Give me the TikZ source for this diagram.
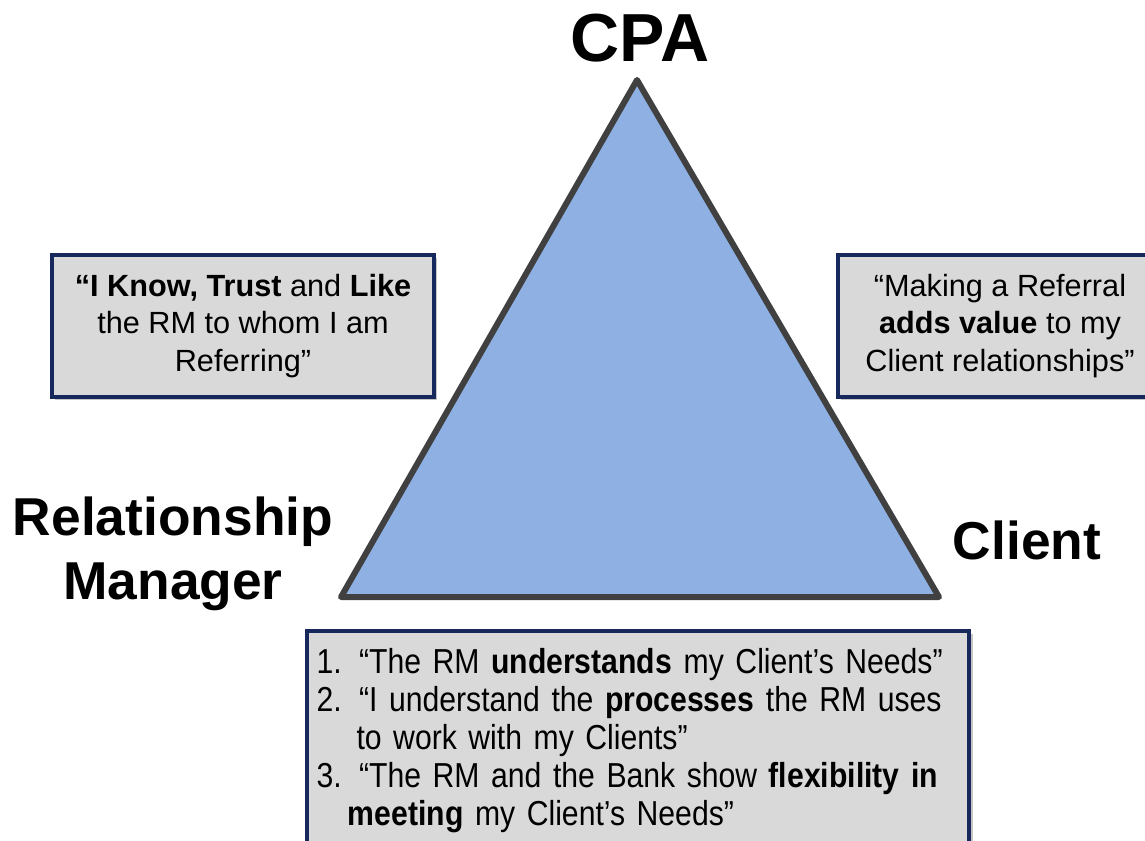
\documentclass[tikz,border=0pt]{standalone}
\usepackage{fontspec}
\setmainfont{Liberation Sans}
\newfontfamily\narrowfont[FakeStretch=0.87, Ligatures=TeX]{Liberation Sans}
\newcommand\needsfont{\narrowfont\fontsize{26}{28.5}\selectfont}
\usetikzlibrary{math,shadows}

\definecolor{triblue}{RGB}{142,176,226}
\definecolor{triedge}{RGB}{64,64,64}
\definecolor{boxgray}{RGB}{217,217,217}
\definecolor{boxnavy}{RGB}{22,40,92}

\tikzset{
  corner/.style={font=\bfseries\fontsize{40}{48}\selectfont, align=center},
  quotebox/.style={draw=boxnavy, line width=3pt, fill=boxgray,
    drop shadow={shadow xshift=2.5pt, shadow yshift=-2.5pt, opacity=0.45},
    align=center, font=\fontsize{23}{28}\selectfont, inner sep=0pt}
}

\begin{document}
\begin{tikzpicture}[x=0.75pt, y=-0.75pt]
  \tikzmath{\w = 1145;}
  \tikzmath{\h = 841;}

  \useasboundingbox (0, 0) rectangle (\w, \h);

  % triangle corners
  \coordinate (apex) at (637, 80);
  \coordinate (lc) at (341, 597);
  \coordinate (rc) at (939, 597);
  \draw[line width=4.5pt, draw=triedge, fill=triblue, line join=round]
    (apex) -- (rc) -- (lc) -- cycle;

  % corner labels
  \node[corner, font=\bfseries\fontsize{51}{60}\selectfont] (cpa) at (640, 38) {CPA};
  \node[corner] (rm) at (173, 554) {Relationship\\Manager};
  \node[corner] (client) at (1027, 540) {Client};

  % CPA -- RM
  \node[quotebox, minimum width=286.5pt, minimum height=106.5pt] (knowbox) at (243, 326)
    {\textbf{“I Know, Trust} and \textbf{Like}\\the RM to whom I am\\Referring”};

  % CPA -- Client
  \node[quotebox, minimum width=243pt, minimum height=106.5pt] (valuebox) at (1000, 326)
    {“Making a Referral\\\textbf{adds value} to my\\Client relationships”};

  % RM -- Client
  \node[quotebox, minimum width=497pt, minimum height=165pt, align=left,
        text width=482pt, inner xsep=7.5pt, font=\needsfont] (needsbox) at (638, 741)
    {1. “The RM \textbf{understands} my Client’s Needs”\\
     2. “I understand the \textbf{processes} the RM uses\\
     \hspace*{1.15em}to work with my Clients”\\
     3. “The RM and the Bank show \textbf{flexibility in}\\
     \hspace*{0.9em}\textbf{meeting} my Client’s Needs”};
\end{tikzpicture}
\end{document}
